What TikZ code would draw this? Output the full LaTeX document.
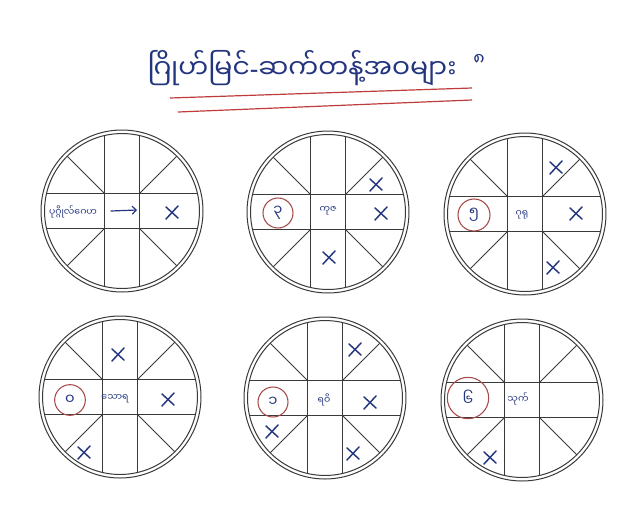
\documentclass[tikz,border=0pt]{standalone}
\usepackage{fontspec}
\newfontfamily\mya[Script=Myanmar]{Noto Sans Myanmar UI}
\newfontfamily\lat{Noto Sans}
\usetikzlibrary{arrows.meta}
\definecolor{ink}{HTML}{23357F}
\definecolor{linec}{HTML}{3A3A3A}
\definecolor{redc}{HTML}{A84A4A}
\definecolor{redl}{HTML}{C03C3C}
\tikzset{
  ring/.style={draw=linec, line width=0.75pt},
  gridl/.style={draw=linec, line width=0.65pt},
  pen/.style={draw=ink, line width=1pt, line cap=round},
  lbl/.style={text=ink, font=\mya\fontsize{7}{8}\selectfont, inner sep=0pt},
  numc/.style={circle, draw=redc, line width=0.8pt, text=ink, inner sep=0pt,
    minimum size=#1, font=\mya\fontsize{11}{11}\selectfont},
  numc/.default=22.5pt,
  wheel/.pic={
    \draw[ring] (0,0) circle[radius=60.75pt];
    \draw[ring] (0,0) circle[radius=58.1pt];
    \draw[gridl] (-17.5,-75.5) -- (-17.5,75.5) (17.5,-75.5) -- (17.5,75.5)
      (-75.5,-17.5) -- (75.5,-17.5) (-75.5,17.5) -- (75.5,17.5)
      (17.5,17.5) -- (54.8,54.8) (-17.5,17.5) -- (-54.8,54.8)
      (17.5,-17.5) -- (54.8,-54.8) (-17.5,-17.5) -- (-54.8,-54.8);
  },
  xmark/.pic={
    \draw[pen, line width=1.1pt] (-6,-6) -- (6,5) (-6,6) -- (6,-7);
  },
}
\begin{document}
\begin{tikzpicture}[x=0.75pt, y=-0.75pt]
\useasboundingbox[fill=white] (0,0) rectangle (640,508);

% title
\node[text=ink, font=\mya\fontsize{20}{24}\selectfont, inner sep=0pt] (title) at (302,68) {ဂြိုဟ်မြင်{\lat -}ဆက်တန့်အဝများ};
\node[text=ink, font=\mya\fontsize{13}{13}\selectfont, inner sep=0pt] (tnum) at (479,60) {၈};
\coordinate (u1a) at (170,98); \coordinate (u1b) at (472,88);
\coordinate (u2a) at (178,112); \coordinate (u2b) at (472,100);
\draw[redl, line width=0.9pt] (u1a) -- (u1b);
\draw[redl, line width=0.9pt] (u2a) -- (u2b);

% wheel 1
\pic at (122,211) {wheel};
\node[lbl] (w1l) at (73,212) {\mya ပုဂ္ဂိုလ်ဂေဟ};
\coordinate (w1a) at (111,211); \coordinate (w1b) at (137,210);
\draw[pen, line width=0.9pt, -{Straight Barb[length=3pt]}] (w1a) -- (w1b);
\pic at (172,213) {xmark};

% wheel 2
\pic at (328,212) {wheel};
\node[numc] (w2n) at (278,213) {၃};
\node[lbl] (w2c) at (328,211) {ကုဇ};
\pic at (376,185) {xmark};
\pic at (381,214) {xmark};
\pic at (329,258) {xmark};

% wheel 3
\pic at (525,214) {wheel};
\node[numc=24pt] (w3n) at (474,215) {၅};
\node[lbl] (w3c) at (522,215) {ဂုရု};
\pic at (556,168) {xmark};
\pic at (576,214) {xmark};
\pic at (553,268) {xmark};

% wheel 4
\pic at (120,397) {wheel};
\pic at (118,355) {xmark};
\node[numc=23pt] (w4n) at (70,400) {၀};
\node[lbl] (w4c) at (115,399) {သောရ};
\pic at (168,400) {xmark};
\pic at (84,453) {xmark};

% wheel 5
\pic at (325,398) {wheel};
\pic at (355,350) {xmark};
\node[numc] (w5n) at (273,402) {၁};
\node[lbl] (w5c) at (324,400) {ရဝိ};
\pic at (370,403) {xmark};
\pic at (353,454) {xmark};
\pic at (272,432) {xmark};

% wheel 6
\pic at (522,400) {wheel};
\node[numc=31pt] (w6n) at (468,398) {၆};
\node[lbl] (w6c) at (518,399) {သုက်};
\pic at (490,458) {xmark};
\end{tikzpicture}
\end{document}
